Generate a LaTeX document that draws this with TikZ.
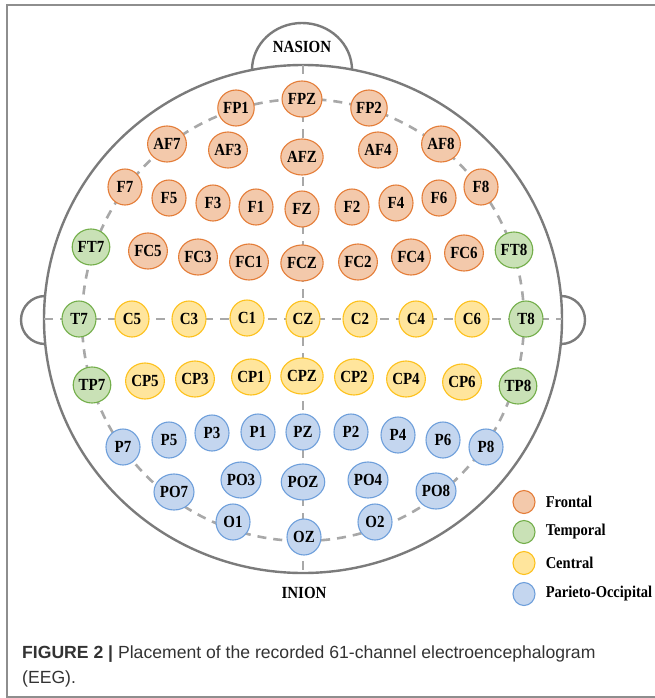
\documentclass[tikz,border=0pt]{standalone}
\usepackage{fontspec}
\setmainfont{Liberation Serif}[FakeStretch=0.88]
\newfontfamily\capfont{Liberation Sans}
\usetikzlibrary{shapes.geometric,positioning}

\definecolor{headgray}{HTML}{7B7B7B}
\definecolor{guidegray}{HTML}{A8A8A8}
\definecolor{framegray}{HTML}{8E8E8E}
\definecolor{frontfill}{HTML}{F3C9AB}
\definecolor{frontline}{HTML}{E47D38}
\definecolor{tempfill}{HTML}{C9E1B6}
\definecolor{templine}{HTML}{73AE4A}
\definecolor{centfill}{HTML}{FFE59C}
\definecolor{centline}{HTML}{FDC11C}
\definecolor{parifill}{HTML}{C4D6EF}
\definecolor{pariline}{HTML}{6E9FDB}
\definecolor{captext}{HTML}{333333}

\begin{document}
\begin{tikzpicture}[x=1pt, y=-1pt,
        head/.style={draw=headgray, line width=2.4pt},
        guide/.style={draw=guidegray, line width=2.6pt, dash pattern=on 9pt off 7pt},
        electrode/.style={ellipse, minimum width=34pt, minimum height=36pt, inner sep=0pt,
            line width=1.1pt, font=\fontsize{17}{17}\selectfont\bfseries},
        frontal/.style={electrode, draw=frontline, fill=frontfill},
        temporal/.style={electrode, draw=templine, fill=tempfill},
        central/.style={electrode, draw=centline, fill=centfill},
        parietal/.style={electrode, draw=pariline, fill=parifill},
        key/.style={ellipse, minimum width=22pt, minimum height=23pt, inner sep=0pt, line width=1.1pt},
        keytext/.style={inner sep=0pt, anchor=west, font=\fontsize{16.5}{16.5}\selectfont\bfseries},
        landmark/.style={inner sep=0pt, font=\fontsize{17}{17}\selectfont\bfseries},
        caption/.style={inner sep=0pt, anchor=base west, text=captext, font=\capfont\fontsize{17.6}{17.6}\selectfont}]
        \useasboundingbox (0, 0) rectangle (655, 698);
        \draw[draw=framegray, line width=1.8pt] (660, 5) -- (7, 5) -- (7, 697) -- (660, 697);

        % head outline, nose and ears
        \coordinate (head) at (303, 319);
        \draw[head] (head) ellipse[x radius=259, y radius=254];
        \draw[head] (252, 70) arc[start angle=180, end angle=360, x radius=50, y radius=47];
        \draw[head] (45, 344) arc[start angle=90, end angle=270, radius=24];
        \draw[head] (561, 296) arc[start angle=-90, end angle=90, radius=24];

        % guide lines
        \draw[guide] (303, 320) circle[radius=221];
        \draw[guide] (44, 319) -- (562, 319);
        \draw[guide] (303, 65) -- (303, 573);

        \node[landmark] at (302, 47)(nasion){NASION};
        \node[landmark] at (304, 593)(inion){INION};

        \node[frontal] at (236, 108)(FP1){FP1};
        \node[frontal] at (302, 99)(FPZ){FPZ};
        \node[frontal] at (369, 108)(FP2){FP2};
        \node[frontal] at (167, 144)(AF7){AF7};
        \node[frontal] at (228, 150)(AF3){AF3};
        \node[frontal] at (302, 157)(AFZ){AFZ};
        \node[frontal] at (378, 150)(AF4){AF4};
        \node[frontal] at (441, 144)(AF8){AF8};
        \node[frontal] at (125, 187)(F7){F7};
        \node[frontal] at (169, 198)(F5){F5};
        \node[frontal] at (213, 203)(F3){F3};
        \node[frontal] at (256, 207)(F1){F1};
        \node[frontal] at (302, 209)(FZ){FZ};
        \node[frontal] at (352, 207)(F2){F2};
        \node[frontal] at (396, 203)(F4){F4};
        \node[frontal] at (439, 198)(F6){F6};
        \node[frontal] at (481, 187)(F8){F8};
        \node[temporal] at (91, 247)(FT7){FT7};
        \node[frontal] at (148, 251)(FC5){FC5};
        \node[frontal] at (198, 257)(FC3){FC3};
        \node[frontal] at (249, 262)(FC1){FC1};
        \node[frontal] at (302, 263)(FCZ){FCZ};
        \node[frontal] at (358, 262)(FC2){FC2};
        \node[frontal] at (411, 257)(FC4){FC4};
        \node[frontal] at (464, 253)(FC6){FC6};
        \node[temporal] at (514, 250)(FT8){FT8};

        \node[temporal] at (79, 319)(T7){T7};
        \node[central] at (132, 319)(C5){C5};
        \node[central] at (189, 319)(C3){C3};
        \node[central] at (247, 318)(C1){C1};
        \node[central] at (303, 319)(CZ){CZ};
        \node[central] at (360, 319)(C2){C2};
        \node[central] at (416, 319)(C4){C4};
        \node[central] at (472, 319)(C6){C6};
        \node[temporal] at (526, 319)(T8){T8};
        \node[temporal] at (92, 385)(TP7){TP7};
        \node[central] at (145, 381)(CP5){CP5};
        \node[central] at (195, 379)(CP3){CP3};
        \node[central] at (251, 377)(CP1){CP1};
        \node[central] at (302, 376)(CPZ){CPZ};
        \node[central] at (354, 377)(CP2){CP2};
        \node[central] at (406, 379)(CP4){CP4};
        \node[central] at (462, 382)(CP6){CP6};
        \node[temporal] at (518, 386)(TP8){TP8};

        \node[parietal] at (123, 447)(P7){P7};
        \node[parietal] at (169, 440)(P5){P5};
        \node[parietal] at (212, 433)(P3){P3};
        \node[parietal] at (258, 432)(P1){P1};
        \node[parietal] at (303, 432)(PZ){PZ};
        \node[parietal] at (351, 432)(P2){P2};
        \node[parietal] at (398, 435)(P4){P4};
        \node[parietal] at (443, 440)(P6){P6};
        \node[parietal] at (486, 447)(P8){P8};
        \node[parietal] at (174, 492)(PO7){PO7};
        \node[parietal] at (241, 480)(PO3){PO3};
        \node[parietal] at (303, 482)(POZ){POZ};
        \node[parietal] at (368, 480)(PO4){PO4};
        \node[parietal] at (436, 491)(PO8){PO8};
        \node[parietal] at (233, 522)(O1){O1};
        \node[parietal] at (304, 537)(OZ){OZ};
        \node[parietal] at (375, 522)(O2){O2};

        % legend
        \node[key, draw=frontline, fill=frontfill] at (524, 502)(keyF){};
        \node[key, draw=templine, fill=tempfill] at (524, 532)(keyT){};
        \node[key, draw=centline, fill=centfill] at (524, 563)(keyC){};
        \node[key, draw=pariline, fill=parifill] at (524, 594)(keyP){};
        \node[keytext, right=10pt of keyF](keyFtext){Frontal};
        \node[keytext, right=10pt of keyT](keyTtext){Temporal};
        \node[keytext, right=10pt of keyC](keyCtext){Central};
        \node[keytext, right=10pt of keyP](keyPtext){Parieto-Occipital};

        \node[caption] at (22, 658)(cap1){\textbf{FIGURE 2 |} Placement of the recorded 61-channel electroencephalogram};
        \node[caption] at (22, 683)(cap2){(EEG).};
    \end{tikzpicture}
\end{document}
